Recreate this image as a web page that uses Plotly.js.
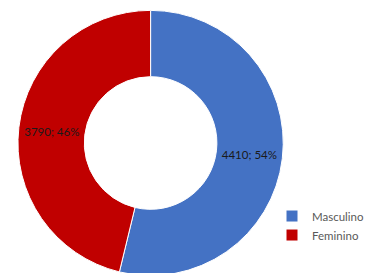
<!DOCTYPE html>
<html>
<head>
<meta charset="utf-8">
<script src="https://cdn.plot.ly/plotly-3.0.1.min.js"></script>
<style>
html, body { margin: 0; padding: 0; overflow: hidden; background: #fff; }
#chart { width: 369px; height: 276px; }
</style>
</head>
<body>
<div id="chart"></div>
<script>
const categories = ["Masculino", "Feminino"];
const values = [4410, 3790];
const colors = ["#4472C4", "#C00000"];

const trace = {
  type: "pie",
  labels: categories,
  values: values,
  hole: 0.5,
  sort: false,
  direction: "clockwise",
  rotation: 0,
  marker: { colors: colors, line: { color: "#ffffff", width: 1 } },
  texttemplate: "%{value}; %{percent:.0%}",
  textposition: "inside",
  insidetextorientation: "horizontal",
  textfont: { family: "Lato, 'Open Sans', sans-serif", size: 11.5, color: "#1a1a1a" },
  domain: { x: [18/369, 284/369], y: [0, 1] },
  hoverinfo: "none"
};

const layout = {
  width: 369,
  height: 276,
  margin: { l: 0, r: 0, t: 10, b: 0 },
  paper_bgcolor: "#ffffff",
  showlegend: true,
  legend: {
    x: 0.74, xanchor: "left",
    y: 0.28, yanchor: "top",
    font: { family: "Lato, 'Open Sans', sans-serif", size: 11.5, color: "#595959" },
    bgcolor: "rgba(0,0,0,0)"
  }
};

Plotly.newPlot("chart", [trace], layout, { staticPlot: true, displayModeBar: false });
</script>
</body>
</html>
